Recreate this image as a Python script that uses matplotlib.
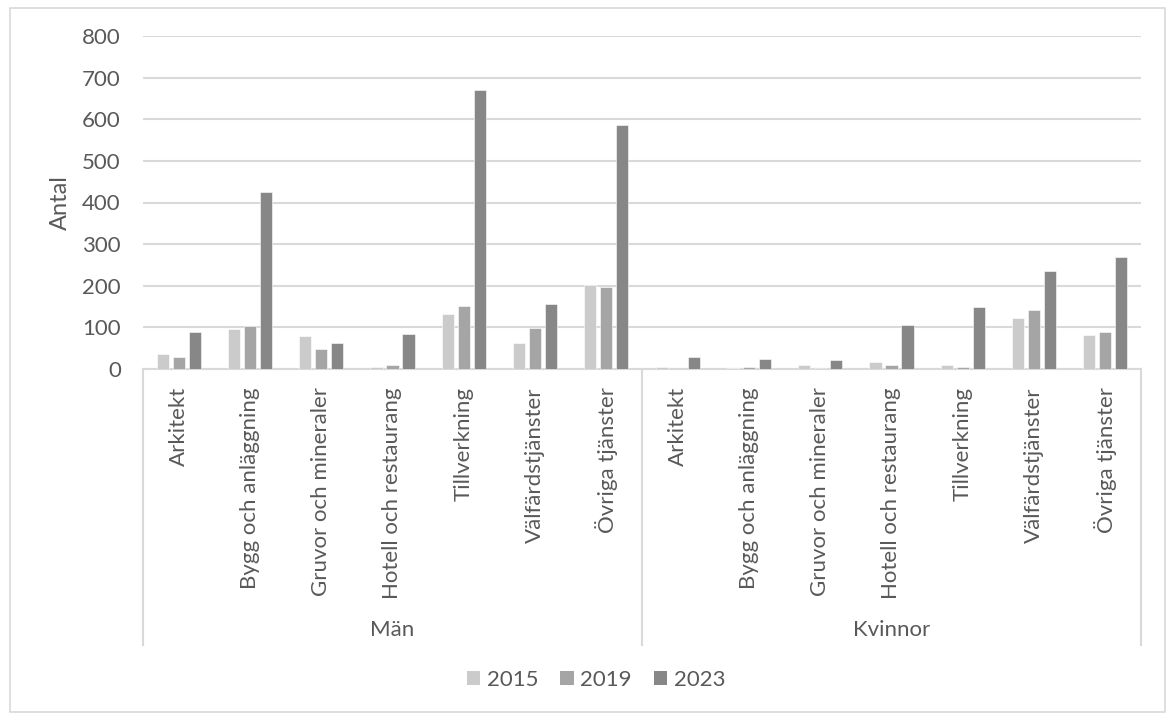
import matplotlib
matplotlib.use("Agg")
import matplotlib.pyplot as plt
from matplotlib.patches import Rectangle, Patch
import numpy as np

plt.rcParams['font.family'] = ['Lato', 'DejaVu Sans']

categories = ["Arkitekt", "Bygg och anläggning", "Gruvor och mineraler",
              "Hotell och restaurang", "Tillverkning", "Välfärdstjänster",
              "Övriga tjänster"]
groups = ["Män", "Kvinnor"]
years = ["2015", "2019", "2023"]

man_2015 = [35, 96, 79, 6, 133, 62, 201]
man_2019 = [28, 103, 47, 10, 152, 99, 198]
man_2023 = [88, 426, 63, 84, 670, 157, 586]
kv_2015 = [6, 3, 10, 16, 10, 123, 81]
kv_2019 = [0, 6, 3, 10, 6, 142, 88]
kv_2023 = [28, 25, 22, 106, 149, 235, 268]

yticks = [0, 100, 200, 300, 400, 500, 600, 700, 800]

series = [man_2015 + kv_2015, man_2019 + kv_2019, man_2023 + kv_2023]
colors = ["#cbcbcb", "#a5a5a5", "#878787"]
text_color = "#595959"
grid_color = "#d9d9d9"

W, H = 1170, 715
fig = plt.figure(figsize=(W / 100, H / 100), dpi=100)
fig.patches.append(Rectangle((10 / W, 1 - 712 / H), 1155 / W, 704 / H,
                             transform=fig.transFigure, fill=False,
                             edgecolor="#d9d9d9", linewidth=1.2))

left, right = 143 / W, 1141 / W
bottom, top = 1 - 369 / H, 1 - 36 / H
ax = fig.add_axes([left, bottom, right - left, top - bottom])

n = len(categories) * len(groups)
x = np.arange(n)
bw = 0.17
step = 0.225
for j, (vals, c) in enumerate(zip(series, colors)):
    ax.bar(x + (j - 1) * step, vals, width=bw, color=c, edgecolor="white",
           linewidth=0.4, zorder=3, label=years[j])

ax.set_xlim(-0.5, n - 0.5)
ax.set_ylim(0, 800)
ax.set_yticks(yticks)
ax.set_yticklabels([str(v) for v in yticks], fontsize=16, color=text_color)
ax.yaxis.grid(True, color=grid_color, linewidth=1.5, zorder=0)
ax.tick_params(axis='y', length=0, pad=16)
for s in ["top", "right", "left"]:
    ax.spines[s].set_visible(False)
ax.spines["bottom"].set_color(grid_color)
ax.spines["bottom"].set_linewidth(1.5)

ax.set_xticks(x)
ax.set_xticklabels(categories * 2, rotation=90, fontsize=16, color=text_color,
                   va="top", ha="center")
ax.tick_params(axis='x', length=0, pad=13)

ax.set_ylabel("Antal", fontsize=17, color=text_color, labelpad=8)

trans = ax.get_xaxis_transform()
ybot = -(645 - 369) / 333
for xv in [-0.5, 6.5, n - 0.5]:
    ax.plot([xv, xv], [0, ybot], transform=trans, color=grid_color,
            linewidth=1.5, clip_on=False)
ygrp = -(630 - 369) / 333
ax.text(3, ygrp, groups[0], transform=trans, ha="center", va="center",
        fontsize=16, color=text_color)
ax.text(10, ygrp, groups[1], transform=trans, ha="center", va="center",
        fontsize=16, color=text_color)

handles = [Patch(facecolor=c, edgecolor="none", label=y) for c, y in zip(colors, years)]
fig.legend(handles=handles, loc="center", bbox_to_anchor=(596 / W, 1 - 680 / H),
           ncol=3, frameon=False, fontsize=16, handlelength=0.6,
           handleheight=0.6, handletextpad=0.3, columnspacing=1.0,
           labelcolor=text_color)

fig.savefig("out.png", dpi=100, facecolor="white")
